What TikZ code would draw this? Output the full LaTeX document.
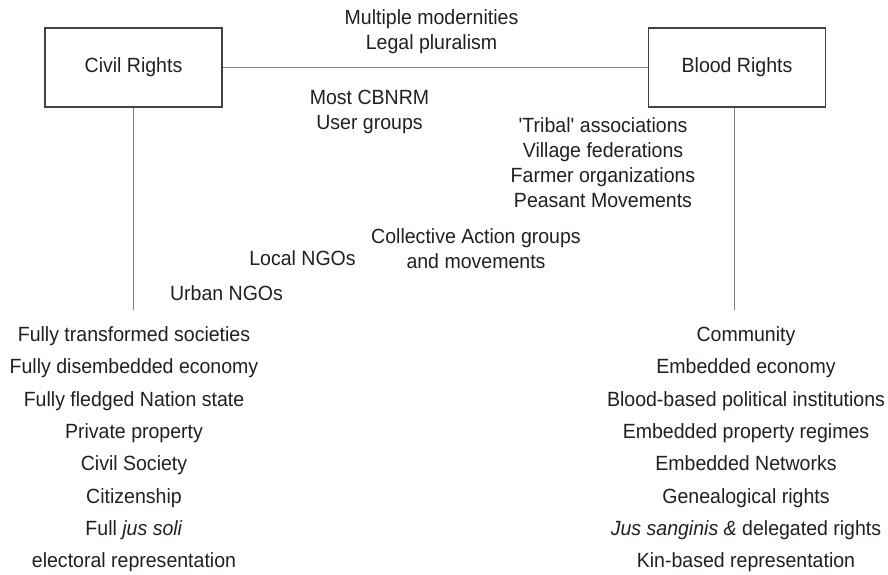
\documentclass[tikz,border=0pt]{standalone}
\usepackage{fontspec}
\setmainfont[FakeStretch=0.95]{Liberation Sans}
\usepackage{xcolor}
\usepackage{tikz}
\usetikzlibrary{positioning,calc}

\definecolor{inkgray}{HTML}{231F20}
\definecolor{linegray}{HTML}{808080}

\begin{document}
\begin{tikzpicture}[
  font=\fontsize{11.7}{14.2}\selectfont,
  text=inkgray,
  rightsbox/.style={draw=inkgray!85, semithick, minimum width=3.54cm, minimum height=1.58cm},
  lbl/.style={align=center, inner sep=0pt},
  listlbl/.style={align=center, inner sep=0pt, font=\fontsize{11.7}{18.4}\selectfont},
  linkline/.style={draw=linegray, thin}
]

\useasboundingbox (0, 0) rectangle (17.76, 11.48);

% Two poles
\node[rightsbox] (civil) at (2.67, 10.13) {Civil Rights};
\node[rightsbox] (blood) at (14.74, 10.13) {Blood Rights};

% Free ends of the vertical lines
\coordinate (civilend) at (2.67, 5.28);
\coordinate (bloodend) at (14.68, 5.28);

% Connectors
\draw[linkline] (civil.east) -- (blood.west);
\draw[linkline] (civil.south) -- (civilend);
\draw[linkline] (bloodend |- blood.south) -- (bloodend);

% Labels along the span
\node[lbl] (multi) at (8.63, 10.85) {Multiple modernities\\Legal pluralism};
\node[lbl] (cbnrm) at (7.39, 9.24) {Most CBNRM\\User groups};
\node[lbl] (tribal) at (12.06, 8.22)
  {\textquotesingle Tribal\textquotesingle{} associations\\Village federations\\Farmer organizations\\Peasant Movements};
\node[lbl] (collective) at (9.52, 6.50) {Collective Action groups\\and movements};
\node[lbl] (localngo) at (6.05, 6.32) {Local NGOs};
\node[lbl] (urbanngo) at (4.53, 5.62) {Urban NGOs};

% Lists under each pole
\node[listlbl] (civillist) at (2.68, 2.49) {%
  Fully transformed societies\\
  Fully disembedded economy\\
  Fully fledged Nation state\\
  Private property\\
  Civil Society\\
  Citizenship\\
  Full \textit{jus soli}\\
  electoral representation};

\node[listlbl] (bloodlist) at (14.92, 2.49) {%
  Community\\
  Embedded economy\\
  Blood-based political institutions\\
  Embedded property regimes\\
  Embedded Networks\\
  Genealogical rights\\
  \textit{Jus sanginis \&} delegated rights\\
  Kin-based representation};

\end{tikzpicture}
\end{document}
